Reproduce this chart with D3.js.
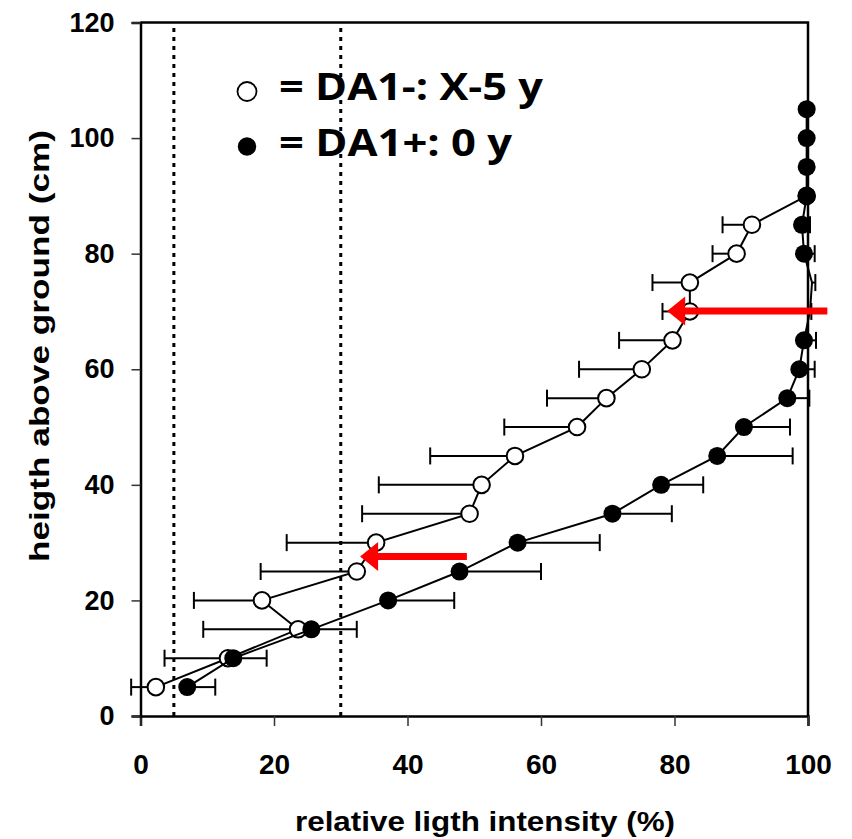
<!DOCTYPE html>
<html>
<head>
<meta charset="utf-8">
<script src="https://d3js.org/d3.v7.min.js"></script>
<style>
  body { margin: 0; background: #fff; }
  text { font-family: "Liberation Sans", Arial, sans-serif; font-weight: bold; fill: #000; }
</style>
</head>
<body>
<div id="graph"></div>
<script>
// heights (cm)
const openHeights = [5, 10, 15, 20, 25, 30, 35, 40, 45, 50, 55, 60, 65, 70, 75, 80, 85, 90];
const filledHeights = [5, 10, 15, 20, 25, 30, 35, 40, 45, 50, 55, 60, 65, 70, 75, 80, 85, 90, 95, 100, 105];

// DA1-: X-5 y (open circles), error bars to the left
const openValues = [2.3, 13.1, 23.6, 18.2, 32.4, 35.3, 49.3, 51.1, 56.1, 65.4, 69.8, 75.1, 79.7, 82.3, 82.3, 89.3, 91.6, 99.8];
const openLow = [-1.4, 3.6, 9.4, 8.0, 18.0, 21.9, 33.2, 35.7, 43.4, 54.5, 60.9, 65.7, 71.7, 78.2, 76.7, 85.7, 87.2, 99.8];

// DA1+: 0 y (filled circles), error bars to the right
const filledValues = [7.0, 13.9, 25.6, 37.1, 47.8, 56.5, 70.7, 78.0, 86.4, 90.4, 96.9, 98.7, 99.4, 100.3, 100.6, 99.4, 99.1, 99.8, 99.8, 99.8, 99.8];
const filledHigh = [11.2, 18.9, 32.4, 47.0, 60.0, 68.8, 79.6, 84.3, 97.7, 97.3, 100.2, 101.0, 101.2, 100.5, 101.1, 101.0, 100.3, 99.8, 99.8, 99.8, 99.8];

const xTicks = [0, 20, 40, 60, 80, 100];
const yTicks = [0, 20, 40, 60, 80, 100, 120];
const refLines = [5, 30];

// red arrows: [from x, to x, height]
const arrows = [
  [102.9, 78.9, 70.1],
  [48.9, 32.9, 27.6]
];

const legendLabels = ["= DA1-: X-5 y", "= DA1+: 0 y"];

const width = 852;
const height = 839;
const margin = { left: 140.5, right: 44, top: 22.5, bottom: 123 };

const x = d3.scaleLinear().domain([0, 100]).range([margin.left, width - margin.right]);
const y = d3.scaleLinear().domain([0, 120]).range([height - margin.bottom, margin.top]);

const svg = d3
  .select("#graph")
  .append("svg")
  .attr("width", width)
  .attr("height", height);

// dotted reference lines
svg
  .append("g")
  .selectAll("line")
  .data(refLines)
  .join("line")
  .attr("x1", d => x(d))
  .attr("x2", d => x(d))
  .attr("y1", y(0))
  .attr("y2", y(120))
  .attr("stroke", "#000")
  .attr("stroke-width", 3)
  .attr("stroke-dasharray", "4,5");

// frame (top + right)
svg
  .append("path")
  .attr("d", `M${x(0)},${y(120)} L${x(100)},${y(120)} L${x(100)},${y(0)}`)
  .attr("fill", "none")
  .attr("stroke", "#000")
  .attr("stroke-width", 2.5);

// axes
const xAxis = svg
  .append("g")
  .attr("transform", `translate(0,${y(0)})`)
  .call(d3.axisBottom(x).tickValues(xTicks).tickSize(10).tickPadding(28));
const yAxis = svg
  .append("g")
  .attr("transform", `translate(${x(0)},0)`)
  .call(d3.axisLeft(y).tickValues(yTicks).tickSize(9).tickPadding(17));

[xAxis, yAxis].forEach(g => {
  g.select(".domain").attr("stroke", "#000").attr("stroke-width", 2.5);
  g.selectAll(".tick line").attr("stroke", "#333").attr("stroke-width", 1.5);
  g.selectAll(".tick text")
    .attr("fill", "#000")
    .style("font-family", '"Liberation Sans", Arial, sans-serif')
    .style("font-weight", "bold");
});
xAxis.selectAll(".tick text").style("font-size", "28px");
yAxis.selectAll(".tick text").style("font-size", "27px");

// axis titles
svg
  .append("text")
  .attr("x", 295)
  .attr("y", 831)
  .attr("textLength", 380)
  .attr("lengthAdjust", "spacingAndGlyphs")
  .style("font-size", "27px")
  .text("relative ligth intensity (%)");

svg
  .append("text")
  .attr("transform", `translate(49,562) rotate(-90)`)
  .attr("textLength", 432)
  .attr("lengthAdjust", "spacingAndGlyphs")
  .style("font-size", "27px")
  .text("heigth above ground (cm)");

const openData = openHeights.map((h, i) => ({ h, v: openValues[i], e: openLow[i] }));
const filledData = filledHeights.map((h, i) => ({ h, v: filledValues[i], e: filledHigh[i] }));

const line = d3
  .line()
  .x(d => x(d.v))
  .y(d => y(d.h));

const drawSeries = (data, filled) => {
  const g = svg.append("g");

  // error bars
  const bars = g
    .append("g")
    .selectAll("g")
    .data(data.filter(d => d.e !== d.v))
    .join("g")
    .attr("stroke", "#000")
    .attr("stroke-width", 2);
  bars
    .append("line")
    .attr("x1", d => x(d.v))
    .attr("x2", d => x(d.e))
    .attr("y1", d => y(d.h))
    .attr("y2", d => y(d.h));
  bars
    .append("line")
    .attr("x1", d => x(d.e))
    .attr("x2", d => x(d.e))
    .attr("y1", d => y(d.h) - 8.5)
    .attr("y2", d => y(d.h) + 8.5);

  g.append("path")
    .datum(data)
    .attr("d", line)
    .attr("fill", "none")
    .attr("stroke", "#000")
    .attr("stroke-width", 2);

  // markers outside the plot area are hidden
  g.append("g")
    .selectAll("circle")
    .data(data.filter(d => d.v <= 100))
    .join("circle")
    .attr("cx", d => x(d.v))
    .attr("cy", d => y(d.h))
    .attr("r", filled ? 9 : 8.3)
    .attr("fill", filled ? "#000" : "#fff")
    .attr("stroke", "#000")
    .attr("stroke-width", filled ? 0 : 2);
};

drawSeries(openData, false);
drawSeries(filledData, true);

// red arrows
svg
  .append("g")
  .selectAll("path")
  .data(arrows)
  .join("path")
  .attr("d", d => {
    const x0 = x(d[0]);
    const x1 = x(d[1]);
    const yy = y(d[2]);
    const t = 3.5;
    const hh = 14.5;
    const hl = 18;
    return `M${x1},${yy} L${x1 + hl},${yy - hh} L${x1 + hl},${yy - t} L${x0},${yy - t} L${x0},${yy + t} L${x1 + hl},${yy + t} L${x1 + hl},${yy + hh} Z`;
  })
  .attr("fill", "#ff0000");

// legend
const legend = svg.append("g");
legend
  .append("circle")
  .attr("cx", 247)
  .attr("cy", 91.5)
  .attr("r", 9.5)
  .attr("fill", "#fff")
  .attr("stroke", "#000")
  .attr("stroke-width", 1.8);
legend
  .append("circle")
  .attr("cx", 247)
  .attr("cy", 146.5)
  .attr("r", 9.2)
  .attr("fill", "#000");

const legendWidths = [264, 233];
legend
  .selectAll("text")
  .data(legendLabels)
  .join("text")
  .attr("x", 279)
  .attr("y", (d, i) => 100 + i * 56)
  .attr("textLength", (d, i) => legendWidths[i])
  .attr("lengthAdjust", "spacingAndGlyphs")
  .style("font-family", '"Open Sans", Lato, sans-serif')
  .style("font-weight", "bold")
  .style("font-size", "37px")
  .text(d => d);
</script>
</body>
</html>
